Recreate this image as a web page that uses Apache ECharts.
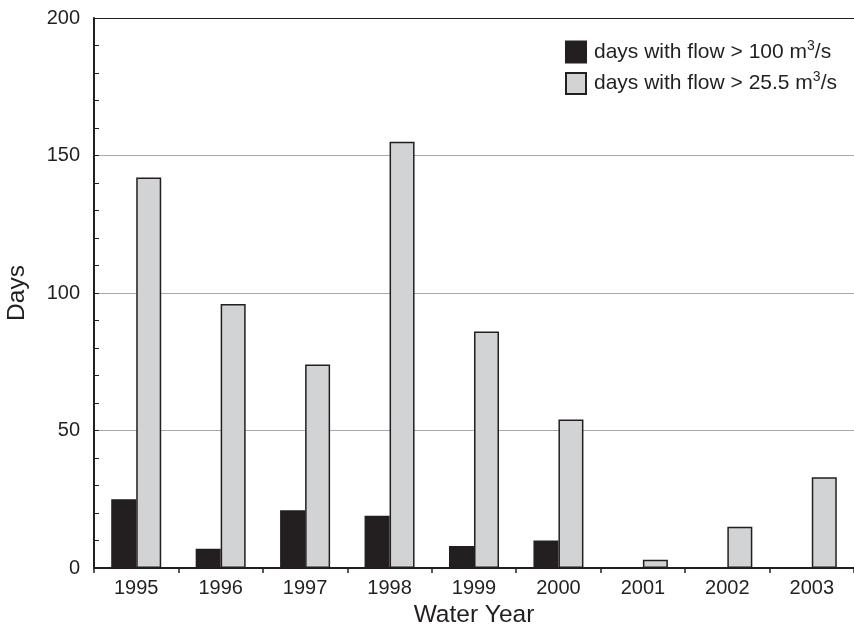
<!DOCTYPE html>
<html>
<head>
<meta charset="utf-8">
<script src="https://cdn.jsdelivr.net/npm/echarts@6/dist/echarts.min.js"></script>
<style>html,body{margin:0;padding:0;background:#fff}#c{width:854px;height:627px}</style>
</head>
<body>
<div id="c"></div>
<script>
var years = ['1995','1996','1997','1998','1999','2000','2001','2002','2003'];
var days100 = [25, 7, 21, 19, 8, 10, 0, 0, 0];
var days25 = [142, 96, 74, 155, 86, 54, 3, 15, 33];
var yTicks = [0, 50, 100, 150, 200];
var seriesNames = ['days with flow > 100 m{sup|3}/s', 'days with flow > 25.5 m{sup|3}/s'];

var font = 'Liberation Sans, Arial, sans-serif';
var chart = echarts.init(document.getElementById('c'));
chart.setOption({
  animation: false,
  backgroundColor: '#fff',
  grid: {left: 94, right: 0, top: 18, bottom: 59, containLabel: false, outerBoundsMode: 'none'},
  legend: {
    left: 565, top: 39, orient: 'vertical', itemGap: 7,
    itemWidth: 20, itemHeight: 21, icon: 'rect', padding: 0,
    data: seriesNames,
    formatter: function (n) { return n; },
    textStyle: {
      fontFamily: font, fontSize: 21, color: '#231f20', padding: [0, 0, 0, 3],
      rich: { sup: {fontSize: 14, verticalAlign: 'top', padding: [0, 0, 12, 0], fontFamily: font, color: '#231f20'} }
    }
  },
  xAxis: {
    type: 'category', data: years,
    name: 'Water Year', nameLocation: 'middle', nameGap: 33,
    nameTextStyle: {fontFamily: font, fontSize: 24.5, color: '#231f20'},
    axisLine: {lineStyle: {color: '#231f20', width: 2}},
    axisTick: {show: true, inside: false, length: 5, lineStyle: {color: '#231f20', width: 1.5}},
    axisLabel: {fontFamily: font, fontSize: 20, color: '#231f20', margin: 10}
  },
  yAxis: {
    type: 'value', min: yTicks[0], max: yTicks[yTicks.length - 1], interval: 50,
    name: 'Days', nameLocation: 'middle', nameGap: 64,
    nameTextStyle: {fontFamily: font, fontSize: 24.5, color: '#231f20'},
    axisLine: {show: true, lineStyle: {color: '#231f20', width: 2}},
    axisTick: {show: true, inside: true, length: 5, lineStyle: {color: '#231f20'}},
    minorTick: {show: true, splitNumber: 5, length: 5, lineStyle: {color: '#231f20'}},
    axisLabel: {fontFamily: font, fontSize: 20, color: '#231f20', margin: 14},
    splitLine: {show: true, lineStyle: {color: ['#231f20', '#a7a9ac', '#a7a9ac', '#a7a9ac', '#231f20'], width: 1}}
  },
  series: [
    {
      name: seriesNames[0], type: 'bar', data: days100,
      barWidth: 25, barGap: '0%',
      itemStyle: {color: '#231f20', borderColor: '#231f20', borderWidth: 1.5}
    },
    {
      name: seriesNames[1], type: 'bar', data: days25,
      barWidth: 25, barGap: '0%',
      itemStyle: {color: '#d1d3d4', borderColor: '#231f20', borderWidth: 1.5}
    }
  ]
});
</script>
</body>
</html>
